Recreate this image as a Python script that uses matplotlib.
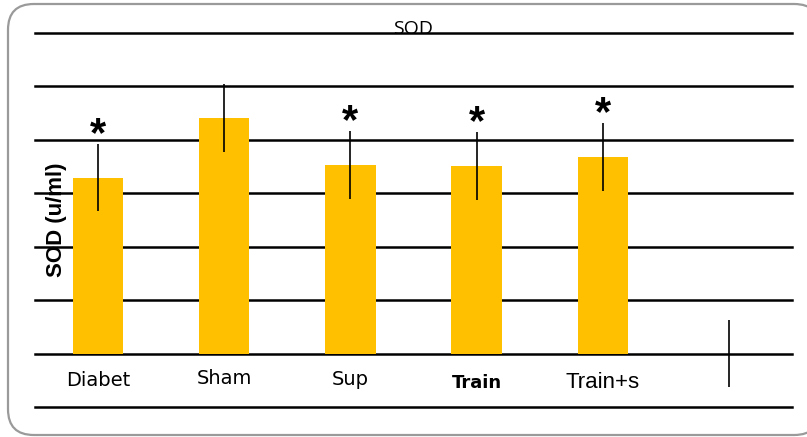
import matplotlib
matplotlib.use('Agg')
import matplotlib.pyplot as plt
from matplotlib.patches import FancyBboxPatch

# data (grid step = 1 unit, no y tick labels)
categories = ['Diabet', 'Sham', 'Sup', 'Train', 'Train+s', '']
values = [3.29, 4.41, 3.53, 3.51, 3.68, 0.0]
errors = [0.63, 0.63, 0.64, 0.63, 0.63, 0.63]
significant = [True, False, True, True, True, False]

fig = plt.figure(figsize=(8.07, 4.37), dpi=100)
fig.patch.set_facecolor('white')

# rounded gray frame, its right side runs just off the picture like in the original
frame = FancyBboxPatch((8 / 807, 2 / 437), 812 / 807, 431 / 437, boxstyle='round,pad=0,rounding_size=0.032',
                       transform=fig.transFigure, facecolor='white', edgecolor='#9a9a9a',
                       linewidth=1.6, mutation_aspect=807 / 437, zorder=-10)
fig.patches.append(frame)

ax = fig.add_axes([35 / 807, 1 - 407 / 437, (792 - 35) / 807, (407 - 33) / 437])
ax.set_facecolor('none')

x = list(range(len(categories)))
ax.bar(x, values, width=0.4, color='#FFC000', zorder=2)
ax.errorbar(x, values, yerr=errors, fmt='none', ecolor='black', elinewidth=1.2, capsize=0, zorder=3)

for xi, v, e, s in zip(x, values, errors, significant):
    if s:
        ax.text(xi, v + e + 0.17, '*', ha='center', va='center', fontsize=30, fontweight='bold',
                family='Liberation Sans')

ax.set_xlim(-0.5, 5.5)
ax.set_ylim(-1, 6)
ax.set_yticks(range(-1, 7))
ax.yaxis.grid(True, color='black', linewidth=1.8)
for gl in ax.yaxis.get_gridlines():
    gl.set_clip_on(False)
ax.set_axisbelow(True)
ax.tick_params(left=False, bottom=False, labelleft=False, labelbottom=False)
for sp in ax.spines.values():
    sp.set_visible(False)

# category labels sit inside the axes between baseline and bottom gridline
label_y = [-0.5, -0.47, -0.49, -0.56, -0.55, -0.5]
label_size = [14, 14, 14, 13, 16, 14]
label_weight = ['normal', 'normal', 'normal', 'bold', 'normal', 'normal']
label_font = ['DejaVu Sans', 'DejaVu Sans', 'DejaVu Sans', 'DejaVu Sans', 'Liberation Sans', 'DejaVu Sans']
for xi, lab, ly, fs, fw, ff in zip(x, categories, label_y, label_size, label_weight, label_font):
    ax.text(xi, ly, lab, ha='center', va='center', fontsize=fs, fontweight=fw, family=ff)

ax.text(-0.33, 2.5, 'SOD (u/ml)', rotation=90, ha='center', va='center', fontsize=16,
        fontweight='bold', family='Liberation Sans')
ax.text(2.50, 5.99, 'SOD', ha='center', va='baseline', fontsize=14, family='Open Sans')

fig.savefig('out.png', dpi=100)
